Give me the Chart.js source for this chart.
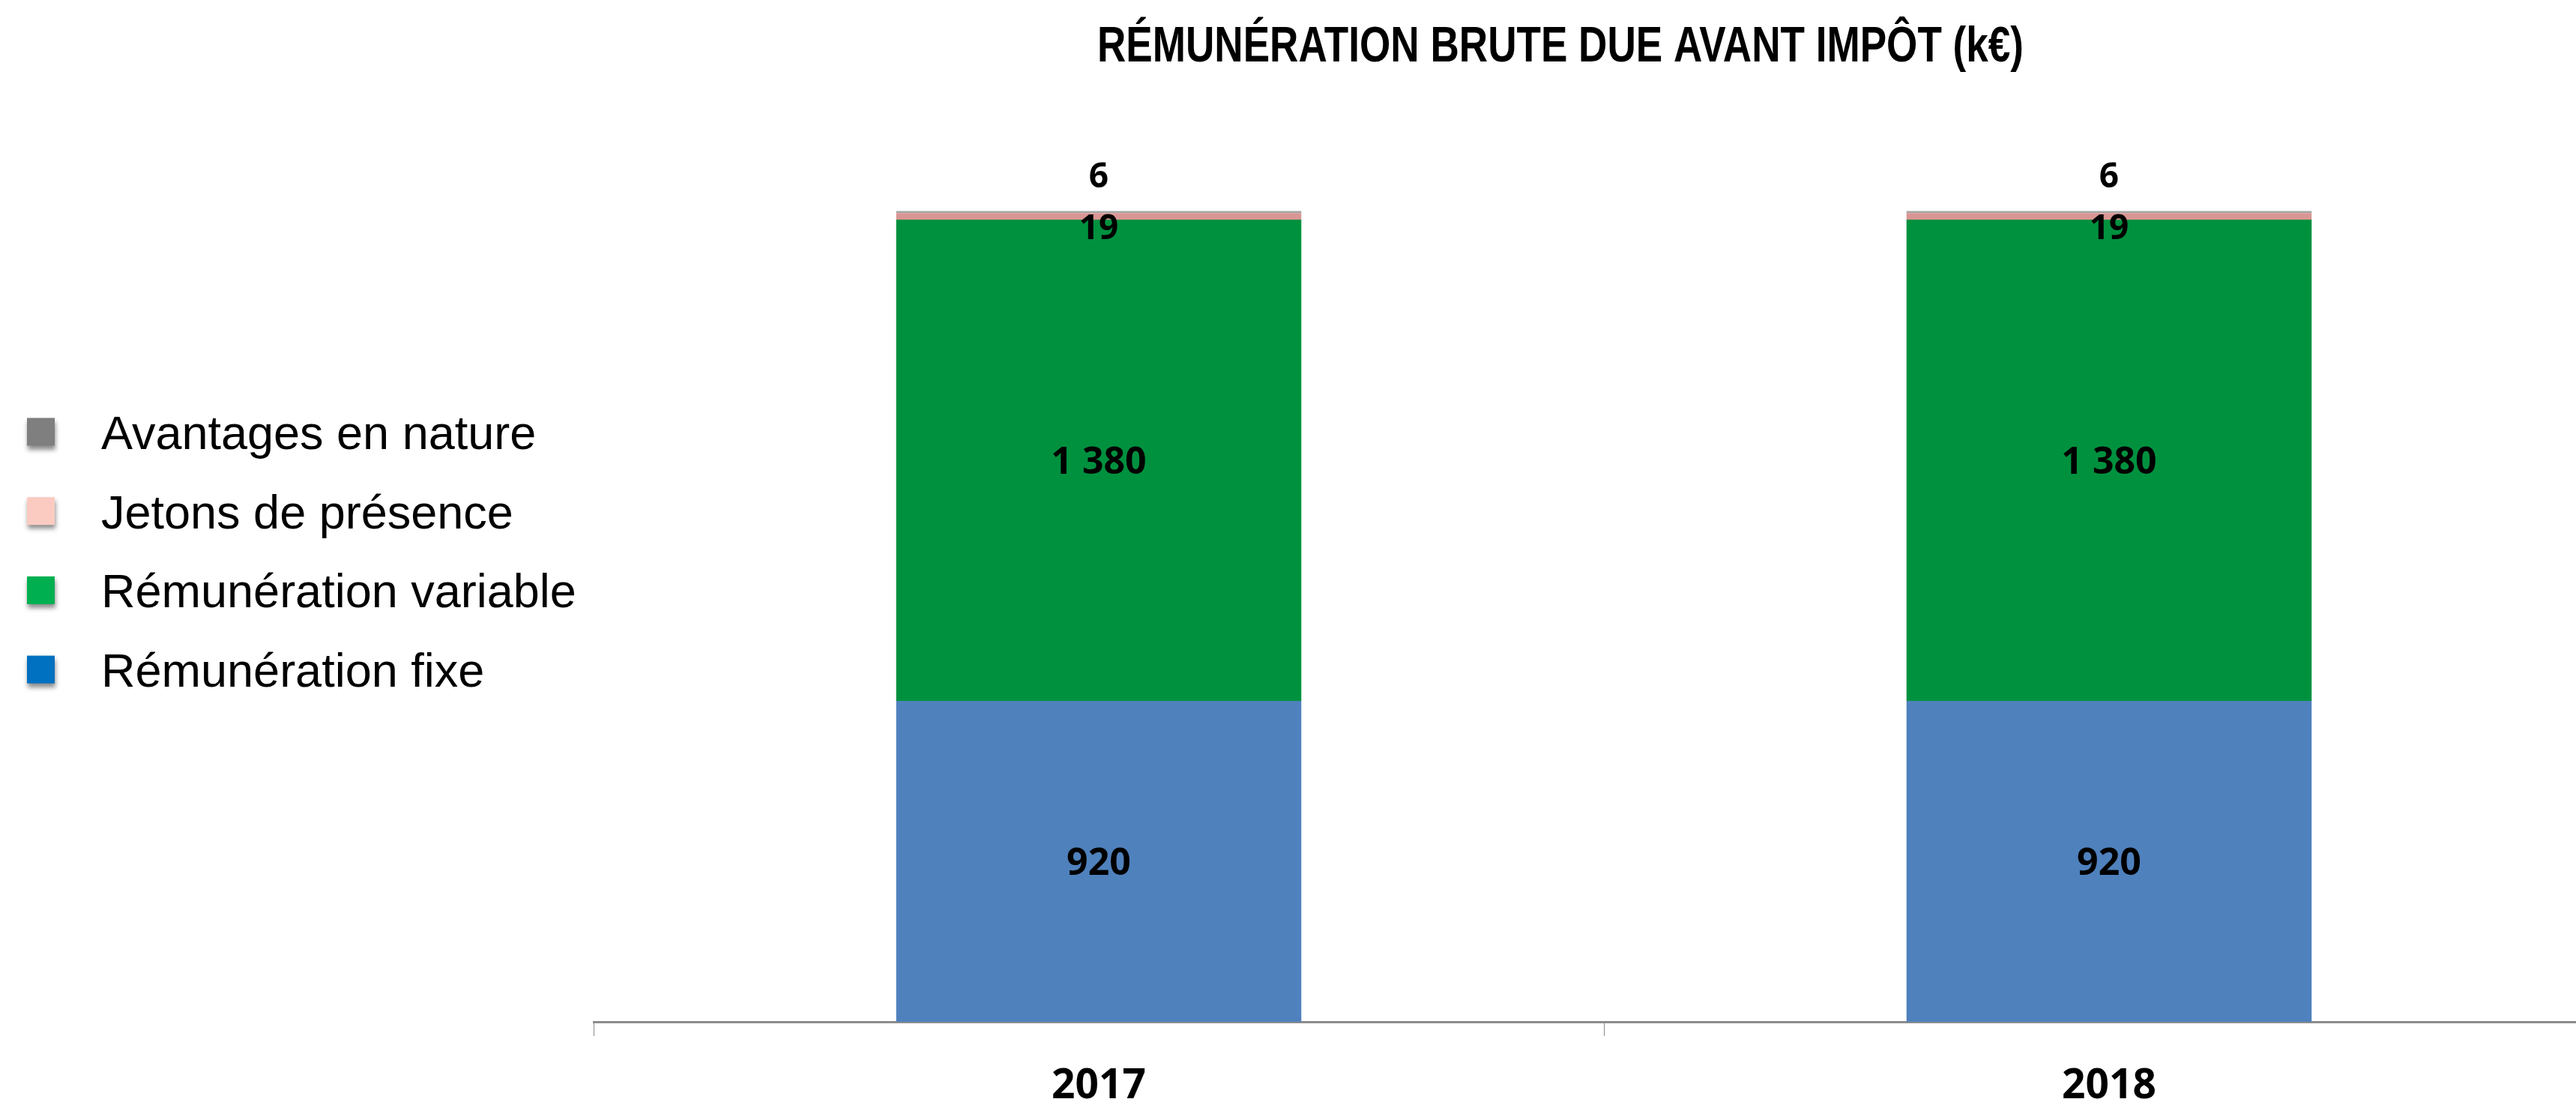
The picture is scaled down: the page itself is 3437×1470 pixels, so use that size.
<!DOCTYPE html>
<html>
<head>
<meta charset="utf-8">
<script src="https://cdn.jsdelivr.net/npm/chart.js@4/dist/chart.umd.min.js"></script>
<style>
html, body { margin: 0; padding: 0; background: #fff; overflow: hidden; }
#wrap { width: 3437px; height: 1470px; overflow: hidden; }
canvas { display: block; }
</style>
</head>
<body>
<div id="wrap"><canvas id="chart" width="3500" height="1470"></canvas></div>
<script>
// Chart data
const YEARS = ['2017', '2018'];
const FIXE = [920, 920];
const VARIABLE = [1380, 1380];
const JETONS = [19, 19];
const AVANTAGES = [6, 6];
const SERIES_NAMES = ['Rémunération fixe', 'Rémunération variable', 'Jetons de présence', 'Avantages en nature'];
const TITLE = 'RÉMUNÉRATION BRUTE DUE AVANT IMPÔT (k€)';

const BAR_COLORS = ['#4F81BD', '#00913F', '#D99694', '#A5A5A5'];
const LEGEND_COLORS = ['#0070C0', '#00B050', '#FBCBC1', '#7F7F7F'];

function fmt(v) {
    return String(v).replace(/\B(?=(\d{3})+(?!\d))/g, ' ');
}

const titlePlugin = {
    id: 'pageTitle',
    afterDraw(chart) {
        const ctx = chart.ctx;
        ctx.save();
        ctx.font = 'bold 66px "Liberation Sans Narrow", "Liberation Sans", Arial, sans-serif';
        const w = ctx.measureText(TITLE).width;
        ctx.translate(2082, 82);
        ctx.scale(1236 / w, 1);
        ctx.textAlign = 'center';
        ctx.textBaseline = 'alphabetic';
        ctx.fillStyle = '#000';
        ctx.fillText(TITLE, 0, 0);
        ctx.restore();
    }
};

// legend on the left, top item = last dataset
const legendPlugin = {
    id: 'sideLegend',
    afterDraw(chart) {
        const ctx = chart.ctx;
        const n = chart.data.datasets.length;
        for (let row = 0; row < n; row++) {
            const di = n - 1 - row;
            const cy = 576 + row * 105.7;
            ctx.save();
            ctx.shadowColor = 'rgba(0,0,0,0.45)';
            ctx.shadowBlur = 6;
            ctx.shadowOffsetX = 1;
            ctx.shadowOffsetY = 5;
            ctx.fillStyle = LEGEND_COLORS[di];
            ctx.fillRect(36, cy - 18.5, 37, 37);
            ctx.restore();
            ctx.save();
            ctx.font = '63px "Liberation Sans", Arial, sans-serif';
            ctx.fillStyle = '#000';
            ctx.textAlign = 'left';
            ctx.textBaseline = 'alphabetic';
            ctx.fillText(chart.data.datasets[di].label, 135, cy + 23);
            ctx.restore();
        }
    }
};

const valueLabels = {
    id: 'valueLabels',
    afterDatasetsDraw(chart) {
        const ctx = chart.ctx;
        ctx.save();
        ctx.fillStyle = '#000';
        ctx.textAlign = 'center';
        ctx.textBaseline = 'alphabetic';
        chart.data.datasets.forEach((ds, di) => {
            chart.getDatasetMeta(di).data.forEach((bar, i) => {
                let size = 50;
                let cy = (bar.y + bar.base) / 2;
                if (di === 2) { size = 46; cy += 14; }
                if (di === 3) { size = 46; cy = bar.y - 48; }
                ctx.font = 'bold ' + size + 'px "Open Sans", sans-serif';
                ctx.fillText(fmt(ds.data[i]), bar.x, cy + size * 0.357);
            });
        });
        ctx.restore();
    }
};

const datasets = [FIXE, VARIABLE, JETONS, AVANTAGES].map((vals, i) => ({
    label: SERIES_NAMES[i],
    data: vals,
    backgroundColor: BAR_COLORS[i],
    borderWidth: 0,
    barPercentage: 0.401,
    categoryPercentage: 1
}));

new Chart(document.getElementById('chart').getContext('2d'), {
    type: 'bar',
    data: { labels: YEARS, datasets: datasets },
    options: {
        responsive: false,
        animation: false,
        devicePixelRatio: 1,
        layout: { padding: { left: 792, right: 12, top: 200, bottom: 0 } },
        plugins: {
            legend: { display: false },
            title: { display: false },
            tooltip: { enabled: false }
        },
        scales: {
            x: {
                stacked: true,
                grid: { offset: true, drawOnChartArea: false, drawTicks: true, tickLength: 19, tickColor: '#8C8C8C', lineWidth: 1 },
                border: { display: true, color: '#8C8C8C', width: 3 },
                ticks: { color: '#000', font: { family: '"Open Sans", sans-serif', weight: 'bold', size: 55 }, padding: 34 },
                afterFit: s => { s.height = 107; }
            },
            y: { stacked: true, display: false, min: 0, max: 2500 }
        }
    },
    plugins: [titlePlugin, legendPlugin, valueLabels]
});
</script>
</body>
</html>
